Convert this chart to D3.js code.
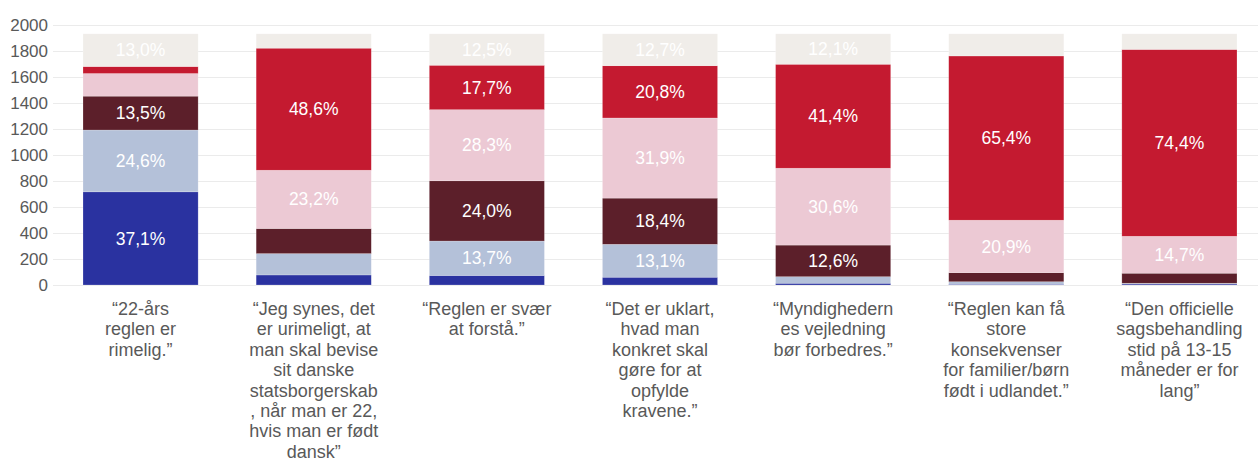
<!DOCTYPE html>
<html>
<head>
<meta charset="utf-8">
<script src="https://cdn.jsdelivr.net/npm/d3@7"></script>
<style>
  body { margin: 0; background: #fff; }
  text { font-family: "Liberation Sans", Arial, sans-serif; }
</style>
</head>
<body>
<div id="chart"></div>
<script>
// categories (statements), wrapped the way the source wraps them
var categories = ["q1", "q2", "q3", "q4", "q5", "q6", "q7"];
var categoryLines = [
  ["“22-års", "reglen er", "rimelig.”"],
  ["“Jeg synes, det", "er urimeligt, at", "man skal bevise", "sit danske", "statsborgerskab", ", når man er 22,", "hvis man er født", "dansk”"],
  ["“Reglen er svær", "at forstå.”"],
  ["“Det er uklart,", "hvad man", "konkret skal", "gøre for at", "opfylde", "kravene.”"],
  ["“Myndighedern", "es vejledning", "bør forbedres.”"],
  ["“Reglen kan få", "store", "konsekvenser", "for familier/børn", "født i udlandet.”"],
  ["“Den officielle", "sagsbehandling", "stid på 13-15", "måneder er for", "lang”"]
];

// share of answers (%) per series, bottom to top
var serie1 = [37.1, 4.0, 3.8, 3.1, 0.7, 0.3, 0.4];
var serie2 = [24.6, 8.5, 13.7, 13.1, 2.6, 1.0, 0.3];
var serie3 = [13.5, 10.0, 24.0, 18.4, 12.6, 3.6, 4.0];
var serie4 = [9.0, 23.2, 28.3, 31.9, 30.6, 20.9, 14.7];
var serie5 = [2.8, 48.6, 17.7, 20.8, 41.4, 65.4, 74.4];
var serie6 = [13.0, 5.7, 12.5, 12.7, 12.1, 8.8, 6.2];

var respondents = 1932;
var yTicks = [0, 200, 400, 600, 800, 1000, 1200, 1400, 1600, 1800, 2000];

var keys = ["s1", "s2", "s3", "s4", "s5", "s6"];
var colors = ["#2a32a0", "#b4c1d9", "#5c1f2a", "#ecc9d4", "#c41a30", "#f0ede9"];
var pcts = [serie1, serie2, serie3, serie4, serie5, serie6];

var rows = categories.map(function(c, i) {
  var r = { cat: c };
  keys.forEach(function(k, j) { r[k] = pcts[j][i] / 100 * respondents; r[k + "_pct"] = pcts[j][i]; });
  return r;
});

var width = 1258, height = 461;

var svg = d3.select("#chart").append("svg")
  .attr("width", width)
  .attr("height", height);

var x = d3.scaleBand()
  .domain(categories)
  .range([54, 1266])
  .paddingInner(0.335)
  .paddingOuter(0.1675);

var y = d3.scaleLinear()
  .domain([0, 2000])
  .range([285, 25]);

// grid + y labels
var yAxis = svg.append("g")
  .attr("transform", "translate(53,0)")
  .call(d3.axisLeft(y).tickValues(yTicks).tickFormat(d3.format("d")).tickSize(0).tickPadding(5))
  .call(function(g) { g.select(".domain").remove(); });

yAxis.selectAll(".tick line").clone()
  .attr("stroke", "#ebebeb")
  .attr("stroke-width", 1.2)
  .attr("x1", 0)
  .attr("x2", width - 53);

yAxis.selectAll(".tick text")
  .attr("fill", "#595959")
  .attr("font-size", "17px")
  .attr("font-family", "Liberation Sans, Arial, sans-serif");

var stacked = d3.stack().keys(keys)(rows);

var layers = svg.append("g").selectAll("g")
  .data(stacked)
  .join("g")
    .attr("fill", function(d, i) { return colors[i]; });

layers.selectAll("rect")
  .data(function(d) { return d; })
  .join("rect")
    .attr("x", function(d) { return x(d.data.cat); })
    .attr("width", x.bandwidth())
    .attr("y", function(d) { return y(d[1]); })
    .attr("height", function(d) { return y(d[0]) - y(d[1]); })
    .attr("stroke", "#fff")
    .attr("stroke-opacity", 0.35)
    .attr("stroke-width", 0.6);

// percentage labels on large enough segments
layers.each(function(layer) {
  d3.select(this).selectAll("text")
    .data(layer.filter(function(d) { return d.data[layer.key + "_pct"] >= 11; }))
    .join("text")
      .attr("x", function(d) { return x(d.data.cat) + x.bandwidth() / 2; })
      .attr("y", function(d) { return (y(d[0]) + y(d[1])) / 2; })
      .attr("dy", "0.35em")
      .attr("text-anchor", "middle")
      .attr("fill", "#fff")
      .attr("font-size", "17.5px")
      .text(function(d) { return d.data[layer.key + "_pct"].toFixed(1).replace(".", ",") + "%"; });
});

// category labels
var catLabels = svg.append("g").selectAll("text")
  .data(categories)
  .join("text")
    .attr("x", function(d) { return x(d) + x.bandwidth() / 2; })
    .attr("y", 315)
    .attr("text-anchor", "middle")
    .attr("fill", "#595959")
    .attr("font-size", "18px");

catLabels.selectAll("tspan")
  .data(function(d, i) { return categoryLines[i]; })
  .join("tspan")
    .attr("x", function() { return d3.select(this.parentNode).attr("x"); })
    .attr("dy", function(d, i) { return i === 0 ? 0 : 20.4; })
    .text(function(d) { return d; });
</script>
</body>
</html>
